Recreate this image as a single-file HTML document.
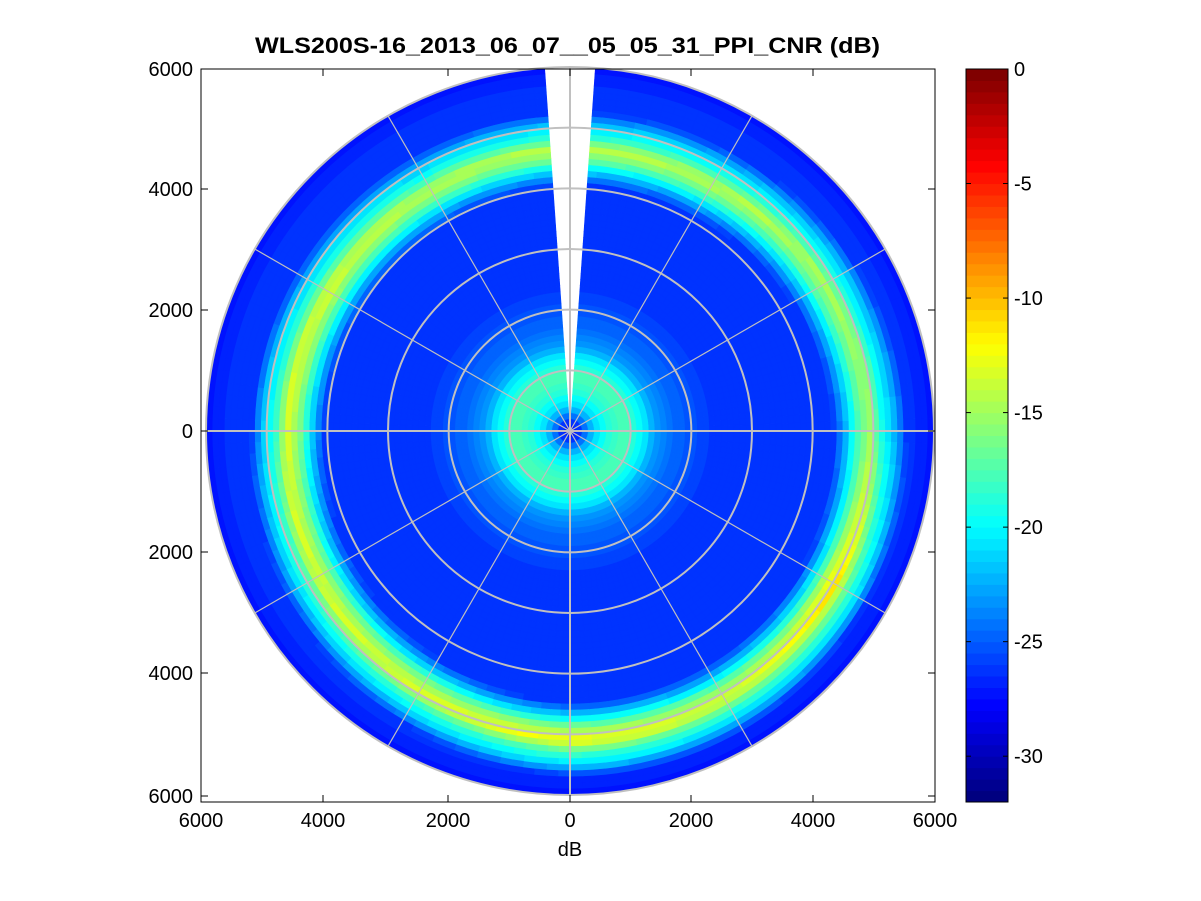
<!DOCTYPE html>
<html><head><meta charset="utf-8">
<style>
html,body{margin:0;padding:0;background:#fff;}
svg{display:block;font-family:"Liberation Sans",Arial,sans-serif;}
</style></head>
<body>
<svg id="chart" width="1201" height="901" viewBox="0 0 1201 901" xmlns="http://www.w3.org/2000/svg">
  <rect x="0" y="0" width="1201" height="901" fill="#fff"/>
  <g id="cells"></g>
  <g id="grid"></g>
  <rect x="201" y="69" width="734" height="733" fill="none" stroke="#000" stroke-width="1"/>
  <g id="axes"></g>
  <text x="255" y="53" textLength="625" lengthAdjust="spacingAndGlyphs" font-size="22" font-weight="bold">WLS200S-16_2013_06_07__05_05_31_PPI_CNR (dB)</text>
  <text x="570" y="856" text-anchor="middle" font-size="20">dB</text>
  <g id="cbar"></g>
</svg>
<script>
// ---- data ----
const profileRanges = [100,300,500,700,900,1100,1300,1500,1700,1900,2100,2300,2500,2700,2900,3100,3300,3500,3700,3900,4100,4300,4500,4700,4900,5100,5300,5500,5700,5900];
const profileDb = [-27,-23,-20,-18.5,-17.5,-19,-21.5,-23.5,-24.5,-25,-25.5,-26,-26,-26,-26,-26,-26,-26,-26,-26,-26,-26,-26,-26,-26,-26,-26,-26,-26.5,-27];
const sectorAz = [0,30,60,90,120,150,180,210,240,270,300,330];
const ringRadius = [4650,4700,4850,4950,5050,5100,5100,4950,4800,4650,4600,4600];
const ringPeak = [-14,-14,-14.5,-15,-11,-13,-12,-13,-13,-13,-13,-14];
const ringOffsets = [-600,-400,-200,0,200,400,600];
const ringShape = [0,0.35,0.75,1,0.6,0.35,0];
const gapAz = [-4,4];
const xTickLabels = ["6000","4000","2000","0","2000","4000","6000"];
const yTickLabels = ["6000","4000","2000","0","2000","4000","6000"];
const cbarTicks = [0,-5,-10,-15,-20,-25,-30];

// ---- geometry ----
const NS="http://www.w3.org/2000/svg";
const cx=570, cy=431, s=364/6000;
const cmin=-32, cmax=0;
function lin(xs,ys,x){ if(x<=xs[0])return ys[0]; for(let i=1;i<xs.length;i++){ if(x<=xs[i]){const t=(x-xs[i-1])/(xs[i]-xs[i-1]);return ys[i-1]+t*(ys[i]-ys[i-1]);} } return ys[ys.length-1]; }
function circ(xs,ys,a){ const a2=((a%360)+360)%360; const n=xs.length; for(let i=0;i<n;i++){const x0=xs[i],x1=(i+1<n?xs[i+1]:360),y0=ys[i],y1=ys[(i+1)%n]; if(a2>=x0&&a2<=x1){const t=(a2-x0)/(x1-x0);return y0+t*(y1-y0);}} return ys[0]; }
function jet(v){
  let t=(v-cmin)/(cmax-cmin); t=Math.max(0,Math.min(1,t)); t=Math.floor(t*63.999)/63;
  const r=Math.max(0,Math.min(1,1.5-Math.abs(4*t-3))), g=Math.max(0,Math.min(1,1.5-Math.abs(4*t-2))), b=Math.max(0,Math.min(1,1.5-Math.abs(4*t-1)));
  return `rgb(${Math.round(r*255)},${Math.round(g*255)},${Math.round(b*255)})`;
}
function pt(r,az){const a=az*Math.PI/180;return [cx+r*s*Math.sin(a), cy-r*s*Math.cos(a)];}
function value(r,az){
  const base=lin(profileRanges,profileDb,r);
  const R=circ(sectorAz,ringRadius,az), P=circ(sectorAz,ringPeak,az);
  const f=lin(ringOffsets,ringShape,r-R);
  return base+f*(P-base);
}
// ---- cells ----
const cells=document.getElementById('cells');
const dAz=2, dR=100;
for(let az=0; az<360; az+=dAz){
  const ac=az+dAz/2; const sa=ac>180?ac-360:ac;
  if(sa>gapAz[0]&&sa<gapAz[1]) continue;
  for(let r=0;r<6000;r+=dR){
    const v=value(r+dR/2,ac);
    const p1=pt(r,az),p2=pt(r+dR,az),p3=pt(r+dR,az+dAz),p4=pt(r,az+dAz);
    const el=document.createElementNS(NS,'path');
    el.setAttribute('d',`M${p1[0].toFixed(2)},${p1[1].toFixed(2)}L${p2[0].toFixed(2)},${p2[1].toFixed(2)}A${((r+dR)*s).toFixed(2)},${((r+dR)*s).toFixed(2)} 0 0 1 ${p3[0].toFixed(2)},${p3[1].toFixed(2)}L${p4[0].toFixed(2)},${p4[1].toFixed(2)}Z`);
    const c=jet(v);
    el.setAttribute('fill',c); el.setAttribute('stroke',c); el.setAttribute('stroke-width','0.6');
    
    
    cells.appendChild(el);
  }
}
// ---- grid ----
const grid=document.getElementById('grid');
for(let k=1;k<=6;k++){
  const c=document.createElementNS(NS,'circle');
  c.setAttribute('cx',cx);c.setAttribute('cy',cy);c.setAttribute('r',k*1000*s);
  c.setAttribute('fill','none');c.setAttribute('stroke','#c0c0c0');c.setAttribute('stroke-width','2');
  
  
  grid.appendChild(c);
}
for(let a=0;a<360;a+=30){
  const p=pt(6000,a);
  const l=document.createElementNS(NS,'line');
  l.setAttribute('x1',cx);l.setAttribute('y1',cy);l.setAttribute('x2',p[0]);l.setAttribute('y2',p[1]);
  l.setAttribute('stroke','#c0c0c0');l.setAttribute('stroke-width',(a%90===0)?'2':'1.2');
  
  
  grid.appendChild(l);
}
// ---- axes ----
const axes=document.getElementById('axes');
const xt=[201,323,448,570,691,813,935];
const yt=[69,189,310,431,552,673,796];
xTickLabels.forEach((lab,i)=>{
  const x=xt[i];
  for(const [y1,y2] of [[802,795],[69,76]]){
    const l=document.createElementNS(NS,'line');
    l.setAttribute('x1',x);l.setAttribute('x2',x);l.setAttribute('y1',y1);l.setAttribute('y2',y2);l.setAttribute('stroke','#000');
    
    
    axes.appendChild(l);
  }
  const t=document.createElementNS(NS,'text');
  t.setAttribute('x',x);t.setAttribute('y',827);t.setAttribute('text-anchor','middle');t.setAttribute('font-size','20');
  t.textContent=lab;
  
  
  axes.appendChild(t);
});
yTickLabels.forEach((lab,i)=>{
  const y=yt[i];
  for(const [x1,x2] of [[201,208],[935,928]]){
    const l=document.createElementNS(NS,'line');
    l.setAttribute('x1',x1);l.setAttribute('x2',x2);l.setAttribute('y1',y);l.setAttribute('y2',y);l.setAttribute('stroke','#000');
    
    
    axes.appendChild(l);
  }
  const t=document.createElementNS(NS,'text');
  t.setAttribute('x',193);t.setAttribute('y',y+7);t.setAttribute('text-anchor','end');t.setAttribute('font-size','20');
  t.textContent=lab;
  
  
  axes.appendChild(t);
});
// ---- colorbar ----
const cb=document.getElementById('cbar');
const cbX=966,cbW=42,cbTop=69,cbBot=802;
const cy0=v=>cbTop+(cmax-v)/(cmax-cmin)*(cbBot-cbTop);
for(let i=0;i<64;i++){
  const v0=cmin+i*(cmax-cmin)/64, v1=cmin+(i+1)*(cmax-cmin)/64;
  const r=document.createElementNS(NS,'rect');
  r.setAttribute('x',cbX);r.setAttribute('width',cbW);
  r.setAttribute('y',cy0(v1));r.setAttribute('height',cy0(v0)-cy0(v1)+0.5);
  r.setAttribute('fill',jet((v0+v1)/2));
  
  
  cb.appendChild(r);
}
const fr=document.createElementNS(NS,'rect');
fr.setAttribute('x',cbX);fr.setAttribute('y',cbTop);fr.setAttribute('width',cbW);fr.setAttribute('height',cbBot-cbTop);
fr.setAttribute('fill','none');fr.setAttribute('stroke','#000');


cb.appendChild(fr);
cbarTicks.forEach(v=>{
  const y=cy0(v);
  for(const [x1,x2] of [[cbX,cbX+5],[cbX+cbW,cbX+cbW-5]]){
    const l=document.createElementNS(NS,'line');
    l.setAttribute('x1',x1);l.setAttribute('x2',x2);l.setAttribute('y1',y);l.setAttribute('y2',y);l.setAttribute('stroke','#000');
    
    
    cb.appendChild(l);
  }
  const t=document.createElementNS(NS,'text');
  t.setAttribute('x',1014);t.setAttribute('y',y+7);t.setAttribute('font-size','20');
  t.textContent=String(v);
  
  
  cb.appendChild(t);
});
</script>
</body></html>
